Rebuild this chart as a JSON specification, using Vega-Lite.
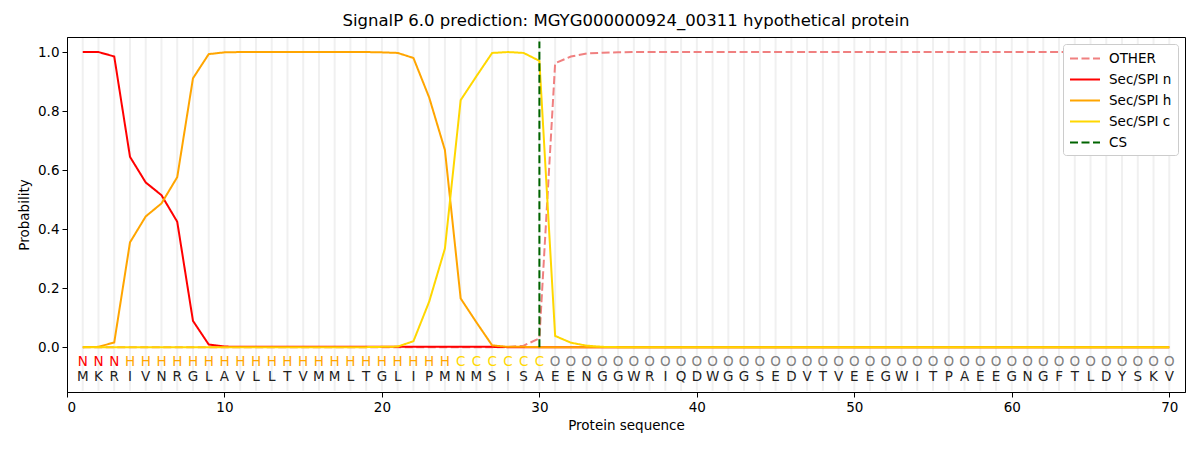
{
  "$schema": "https://vega.github.io/schema/vega-lite/v6.json",
  "width": 1118,
  "height": 355,
  "autosize": {"type": "none"},
  "padding": {"left": 67, "top": 37, "right": 15, "bottom": 58},
  "background": "white",
  "title": {
    "text": "SignalP 6.0 prediction: MGYG000000924_00311 hypothetical protein",
    "font": "DejaVu Sans", "fontSize": 16.5, "fontWeight": "normal", "color": "black",
    "anchor": "middle", "offset": 7
  },
  "config": {
    "view": {"stroke": "black", "strokeWidth": 1},
    "axis": {
      "labelFont": "DejaVu Sans", "labelFontSize": 13.5, "labelColor": "black",
      "titleFont": "DejaVu Sans", "titleFontSize": 13.5, "titleFontWeight": "normal", "titleColor": "black",
      "domainColor": "black", "tickColor": "black", "tickSize": 5, "grid": false
    }
  },
  "datasets": {
    "seq": [
      {"pos": 1, "aa": "M", "lab": "N", "OTHER": 0, "Sec/SPI n": 1.0, "Sec/SPI h": 0, "Sec/SPI c": 0},
      {"pos": 2, "aa": "K", "lab": "N", "OTHER": 0, "Sec/SPI n": 1.0, "Sec/SPI h": 0.001, "Sec/SPI c": 0},
      {"pos": 3, "aa": "R", "lab": "N", "OTHER": 0, "Sec/SPI n": 0.985, "Sec/SPI h": 0.016, "Sec/SPI c": 0},
      {"pos": 4, "aa": "I", "lab": "H", "OTHER": 0, "Sec/SPI n": 0.645, "Sec/SPI h": 0.355, "Sec/SPI c": 0},
      {"pos": 5, "aa": "V", "lab": "H", "OTHER": 0, "Sec/SPI n": 0.558, "Sec/SPI h": 0.443, "Sec/SPI c": 0},
      {"pos": 6, "aa": "N", "lab": "H", "OTHER": 0, "Sec/SPI n": 0.515, "Sec/SPI h": 0.487, "Sec/SPI c": 0},
      {"pos": 7, "aa": "R", "lab": "H", "OTHER": 0, "Sec/SPI n": 0.425, "Sec/SPI h": 0.576, "Sec/SPI c": 0},
      {"pos": 8, "aa": "G", "lab": "H", "OTHER": 0, "Sec/SPI n": 0.089, "Sec/SPI h": 0.911, "Sec/SPI c": 0},
      {"pos": 9, "aa": "L", "lab": "H", "OTHER": 0, "Sec/SPI n": 0.009, "Sec/SPI h": 0.993, "Sec/SPI c": 0},
      {"pos": 10, "aa": "A", "lab": "H", "OTHER": 0, "Sec/SPI n": 0.002, "Sec/SPI h": 0.999, "Sec/SPI c": 0},
      {"pos": 11, "aa": "V", "lab": "H", "OTHER": 0, "Sec/SPI n": 0.001, "Sec/SPI h": 1.0, "Sec/SPI c": 0},
      {"pos": 12, "aa": "L", "lab": "H", "OTHER": 0, "Sec/SPI n": 0.001, "Sec/SPI h": 1.0, "Sec/SPI c": 0},
      {"pos": 13, "aa": "L", "lab": "H", "OTHER": 0, "Sec/SPI n": 0.001, "Sec/SPI h": 1.0, "Sec/SPI c": 0},
      {"pos": 14, "aa": "T", "lab": "H", "OTHER": 0, "Sec/SPI n": 0.001, "Sec/SPI h": 1.0, "Sec/SPI c": 0},
      {"pos": 15, "aa": "V", "lab": "H", "OTHER": 0, "Sec/SPI n": 0.001, "Sec/SPI h": 1.0, "Sec/SPI c": 0},
      {"pos": 16, "aa": "M", "lab": "H", "OTHER": 0, "Sec/SPI n": 0.001, "Sec/SPI h": 1.0, "Sec/SPI c": 0},
      {"pos": 17, "aa": "M", "lab": "H", "OTHER": 0, "Sec/SPI n": 0.001, "Sec/SPI h": 1.0, "Sec/SPI c": 0},
      {"pos": 18, "aa": "L", "lab": "H", "OTHER": 0, "Sec/SPI n": 0.001, "Sec/SPI h": 1.0, "Sec/SPI c": 0},
      {"pos": 19, "aa": "T", "lab": "H", "OTHER": 0, "Sec/SPI n": 0.001, "Sec/SPI h": 1.0, "Sec/SPI c": 0},
      {"pos": 20, "aa": "G", "lab": "H", "OTHER": 0, "Sec/SPI n": 0.001, "Sec/SPI h": 0.999, "Sec/SPI c": 0.001},
      {"pos": 21, "aa": "L", "lab": "H", "OTHER": 0, "Sec/SPI n": 0.001, "Sec/SPI h": 0.997, "Sec/SPI c": 0.002},
      {"pos": 22, "aa": "I", "lab": "H", "OTHER": 0, "Sec/SPI n": 0.001, "Sec/SPI h": 0.98, "Sec/SPI c": 0.02},
      {"pos": 23, "aa": "P", "lab": "H", "OTHER": 0, "Sec/SPI n": 0.001, "Sec/SPI h": 0.846, "Sec/SPI c": 0.154},
      {"pos": 24, "aa": "M", "lab": "H", "OTHER": 0, "Sec/SPI n": 0.001, "Sec/SPI h": 0.668, "Sec/SPI c": 0.334},
      {"pos": 25, "aa": "N", "lab": "C", "OTHER": 0, "Sec/SPI n": 0.001, "Sec/SPI h": 0.165, "Sec/SPI c": 0.837},
      {"pos": 26, "aa": "M", "lab": "C", "OTHER": 0, "Sec/SPI n": 0.001, "Sec/SPI h": 0.084, "Sec/SPI c": 0.918},
      {"pos": 27, "aa": "S", "lab": "C", "OTHER": 0, "Sec/SPI n": 0.001, "Sec/SPI h": 0.006, "Sec/SPI c": 0.997},
      {"pos": 28, "aa": "I", "lab": "C", "OTHER": 0, "Sec/SPI n": 0, "Sec/SPI h": 0.001, "Sec/SPI c": 1.0},
      {"pos": 29, "aa": "S", "lab": "C", "OTHER": 0.005, "Sec/SPI n": 0, "Sec/SPI h": 0.001, "Sec/SPI c": 0.997},
      {"pos": 30, "aa": "A", "lab": "C", "OTHER": 0.03, "Sec/SPI n": 0, "Sec/SPI h": 0, "Sec/SPI c": 0.97},
      {"pos": 31, "aa": "E", "lab": "O", "OTHER": 0.962, "Sec/SPI n": 0, "Sec/SPI h": 0, "Sec/SPI c": 0.038},
      {"pos": 32, "aa": "E", "lab": "O", "OTHER": 0.985, "Sec/SPI n": 0, "Sec/SPI h": 0, "Sec/SPI c": 0.015},
      {"pos": 33, "aa": "N", "lab": "O", "OTHER": 0.995, "Sec/SPI n": 0, "Sec/SPI h": 0, "Sec/SPI c": 0.005},
      {"pos": 34, "aa": "G", "lab": "O", "OTHER": 0.998, "Sec/SPI n": 0, "Sec/SPI h": 0, "Sec/SPI c": 0.001},
      {"pos": 35, "aa": "G", "lab": "O", "OTHER": 0.999, "Sec/SPI n": 0, "Sec/SPI h": 0, "Sec/SPI c": 0},
      {"pos": 36, "aa": "W", "lab": "O", "OTHER": 1.0, "Sec/SPI n": 0, "Sec/SPI h": 0, "Sec/SPI c": 0},
      {"pos": 37, "aa": "R", "lab": "O", "OTHER": 1.0, "Sec/SPI n": 0, "Sec/SPI h": 0, "Sec/SPI c": 0},
      {"pos": 38, "aa": "I", "lab": "O", "OTHER": 1.0, "Sec/SPI n": 0, "Sec/SPI h": 0, "Sec/SPI c": 0},
      {"pos": 39, "aa": "Q", "lab": "O", "OTHER": 1.0, "Sec/SPI n": 0, "Sec/SPI h": 0, "Sec/SPI c": 0},
      {"pos": 40, "aa": "D", "lab": "O", "OTHER": 1.0, "Sec/SPI n": 0, "Sec/SPI h": 0, "Sec/SPI c": 0},
      {"pos": 41, "aa": "W", "lab": "O", "OTHER": 1.0, "Sec/SPI n": 0, "Sec/SPI h": 0, "Sec/SPI c": 0},
      {"pos": 42, "aa": "G", "lab": "O", "OTHER": 1.0, "Sec/SPI n": 0, "Sec/SPI h": 0, "Sec/SPI c": 0},
      {"pos": 43, "aa": "G", "lab": "O", "OTHER": 1.0, "Sec/SPI n": 0, "Sec/SPI h": 0, "Sec/SPI c": 0},
      {"pos": 44, "aa": "S", "lab": "O", "OTHER": 1.0, "Sec/SPI n": 0, "Sec/SPI h": 0, "Sec/SPI c": 0},
      {"pos": 45, "aa": "E", "lab": "O", "OTHER": 1.0, "Sec/SPI n": 0, "Sec/SPI h": 0, "Sec/SPI c": 0},
      {"pos": 46, "aa": "D", "lab": "O", "OTHER": 1.0, "Sec/SPI n": 0, "Sec/SPI h": 0, "Sec/SPI c": 0},
      {"pos": 47, "aa": "V", "lab": "O", "OTHER": 1.0, "Sec/SPI n": 0, "Sec/SPI h": 0, "Sec/SPI c": 0},
      {"pos": 48, "aa": "T", "lab": "O", "OTHER": 1.0, "Sec/SPI n": 0, "Sec/SPI h": 0, "Sec/SPI c": 0},
      {"pos": 49, "aa": "V", "lab": "O", "OTHER": 1.0, "Sec/SPI n": 0, "Sec/SPI h": 0, "Sec/SPI c": 0},
      {"pos": 50, "aa": "E", "lab": "O", "OTHER": 1.0, "Sec/SPI n": 0, "Sec/SPI h": 0, "Sec/SPI c": 0},
      {"pos": 51, "aa": "E", "lab": "O", "OTHER": 1.0, "Sec/SPI n": 0, "Sec/SPI h": 0, "Sec/SPI c": 0},
      {"pos": 52, "aa": "G", "lab": "O", "OTHER": 1.0, "Sec/SPI n": 0, "Sec/SPI h": 0, "Sec/SPI c": 0},
      {"pos": 53, "aa": "W", "lab": "O", "OTHER": 1.0, "Sec/SPI n": 0, "Sec/SPI h": 0, "Sec/SPI c": 0},
      {"pos": 54, "aa": "I", "lab": "O", "OTHER": 1.0, "Sec/SPI n": 0, "Sec/SPI h": 0, "Sec/SPI c": 0},
      {"pos": 55, "aa": "T", "lab": "O", "OTHER": 1.0, "Sec/SPI n": 0, "Sec/SPI h": 0, "Sec/SPI c": 0},
      {"pos": 56, "aa": "P", "lab": "O", "OTHER": 1.0, "Sec/SPI n": 0, "Sec/SPI h": 0, "Sec/SPI c": 0},
      {"pos": 57, "aa": "A", "lab": "O", "OTHER": 1.0, "Sec/SPI n": 0, "Sec/SPI h": 0, "Sec/SPI c": 0},
      {"pos": 58, "aa": "E", "lab": "O", "OTHER": 1.0, "Sec/SPI n": 0, "Sec/SPI h": 0, "Sec/SPI c": 0},
      {"pos": 59, "aa": "E", "lab": "O", "OTHER": 1.0, "Sec/SPI n": 0, "Sec/SPI h": 0, "Sec/SPI c": 0},
      {"pos": 60, "aa": "G", "lab": "O", "OTHER": 1.0, "Sec/SPI n": 0, "Sec/SPI h": 0, "Sec/SPI c": 0},
      {"pos": 61, "aa": "N", "lab": "O", "OTHER": 1.0, "Sec/SPI n": 0, "Sec/SPI h": 0, "Sec/SPI c": 0},
      {"pos": 62, "aa": "G", "lab": "O", "OTHER": 1.0, "Sec/SPI n": 0, "Sec/SPI h": 0, "Sec/SPI c": 0},
      {"pos": 63, "aa": "F", "lab": "O", "OTHER": 1.0, "Sec/SPI n": 0, "Sec/SPI h": 0, "Sec/SPI c": 0},
      {"pos": 64, "aa": "T", "lab": "O", "OTHER": 1.0, "Sec/SPI n": 0, "Sec/SPI h": 0, "Sec/SPI c": 0},
      {"pos": 65, "aa": "L", "lab": "O", "OTHER": 1.0, "Sec/SPI n": 0, "Sec/SPI h": 0, "Sec/SPI c": 0},
      {"pos": 66, "aa": "D", "lab": "O", "OTHER": 1.0, "Sec/SPI n": 0, "Sec/SPI h": 0, "Sec/SPI c": 0},
      {"pos": 67, "aa": "Y", "lab": "O", "OTHER": 1.0, "Sec/SPI n": 0, "Sec/SPI h": 0, "Sec/SPI c": 0},
      {"pos": 68, "aa": "S", "lab": "O", "OTHER": 1.0, "Sec/SPI n": 0, "Sec/SPI h": 0, "Sec/SPI c": 0},
      {"pos": 69, "aa": "K", "lab": "O", "OTHER": 1.0, "Sec/SPI n": 0, "Sec/SPI h": 0, "Sec/SPI c": 0},
      {"pos": 70, "aa": "V", "lab": "O", "OTHER": 1.0, "Sec/SPI n": 0, "Sec/SPI h": 0, "Sec/SPI c": 0}
    ],
    "cs": [{"pos": 30, "series": "CS"}]
  },
  "encoding": {
    "x": {
      "field": "pos", "type": "quantitative",
      "scale": {"domain": [0, 71], "nice": false, "zero": false},
      "axis": {"title": "Protein sequence", "values": [0, 10, 20, 30, 40, 50, 60, 70], "labelPadding": 3, "titlePadding": 5}
    }
  },
  "layer": [
    {
      "data": {"name": "seq"},
      "mark": {"type": "rule", "color": "#f0f0f0", "strokeWidth": 2},
      "encoding": {
        "y": {"datum": -0.148, "type": "quantitative"},
        "y2": {"datum": 1.048}
      }
    },
    {
      "data": {"name": "seq"},
      "transform": [
        {"fold": ["OTHER", "Sec/SPI n", "Sec/SPI h", "Sec/SPI c"], "as": ["series", "prob"]}
      ],
      "mark": {"type": "line", "strokeWidth": 2},
      "encoding": {
        "y": {
          "field": "prob", "type": "quantitative",
          "scale": {"domain": [-0.152, 1.051], "nice": false, "zero": false},
          "axis": {"title": "Probability", "values": [0, 0.2, 0.4, 0.6, 0.8, 1.0], "format": ".1f", "labelPadding": 3, "titlePadding": 6}
        },
        "color": {
          "field": "series", "type": "nominal",
          "scale": {
            "domain": ["OTHER", "Sec/SPI n", "Sec/SPI h", "Sec/SPI c", "CS"],
            "range": ["#f08080", "#ff0000", "#ffa500", "#ffd700", "#006400"]
          },
          "legend": {
            "title": null, "orient": "top-right", "offset": 7,
            "fillColor": "white", "strokeColor": "#cccccc", "cornerRadius": 3, "padding": 6,
            "symbolType": "M-1,0H3", "symbolSize": 225, "symbolStrokeWidth": 2,
            "labelOffset": 23, "labelFont": "DejaVu Sans", "labelFontSize": 13.5, "labelColor": "black",
            "rowPadding": 6
          }
        },
        "strokeDash": {
          "field": "series", "type": "nominal",
          "scale": {
            "domain": ["OTHER", "Sec/SPI n", "Sec/SPI h", "Sec/SPI c", "CS"],
            "range": [[8, 3.5], [1, 0], [1, 0], [1, 0], [8, 3.5]]
          },
          "legend": null
        }
      }
    },
    {
      "data": {"name": "cs"},
      "mark": {"type": "rule", "strokeWidth": 2},
      "encoding": {
        "y": {"datum": 0, "type": "quantitative"},
        "y2": {"datum": 1.036},
        "color": {"field": "series", "type": "nominal"},
        "strokeDash": {"field": "series", "type": "nominal"}
      }
    },
    {
      "data": {"name": "seq"},
      "mark": {"type": "text", "font": "DejaVu Sans", "fontSize": 13.5, "baseline": "middle", "align": "center"},
      "encoding": {
        "y": {"datum": -0.05, "type": "quantitative"},
        "text": {"field": "lab"},
        "color": {
          "condition": [
            {"test": "datum.lab === 'N'", "value": "#ff0000"},
            {"test": "datum.lab === 'H'", "value": "#ffa500"},
            {"test": "datum.lab === 'C'", "value": "#ffd700"}
          ],
          "value": "#808080"
        }
      }
    },
    {
      "data": {"name": "seq"},
      "mark": {"type": "text", "font": "DejaVu Sans", "fontSize": 13.5, "baseline": "middle", "align": "center", "color": "#222222"},
      "encoding": {
        "y": {"datum": -0.1, "type": "quantitative"},
        "text": {"field": "aa"}
      }
    }
  ]
}
